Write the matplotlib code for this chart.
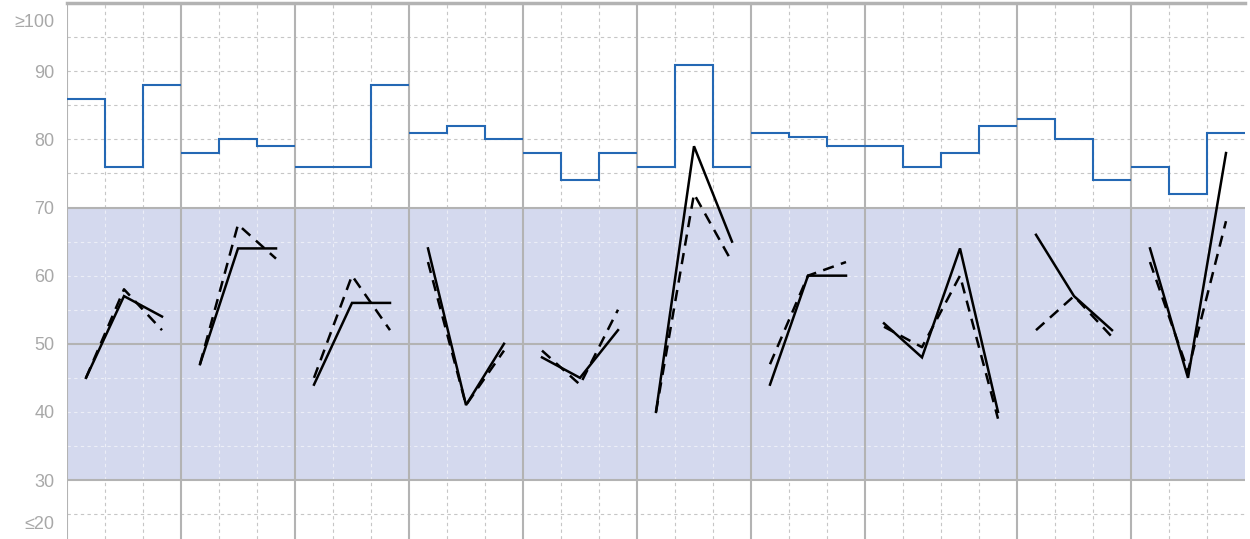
import matplotlib
matplotlib.use("Agg")
import matplotlib.pyplot as plt
import numpy as np

# step values (blue) per panel, one value per sub-column
blue_steps = [
    [86, 76, 88],
    [78, 80, 79],
    [76, 76, 88],
    [81, 82, 80],
    [78, 74, 78],
    [76, 91, 76],
    [81, 80.3, 79],
    [79, 76, 78, 82],
    [83, 80, 74],
    [76, 72, 81],
]
# solid black line per panel
solid_vals = [
    [45, 57, 54],
    [47, 64, 64],
    [44, 56, 56],
    [64, 41, 50],
    [48, 45, 52],
    [40, 79, 65],
    [44, 60, 60],
    [53, 48, 64, 40],
    [66, 57, 52],
    [64, 45, 78],
]
# dashed black line per panel
dashed_vals = [
    [45, 58, 52],
    [47, 67.5, 62.5],
    [45, 60, 52],
    [62, 41, 49],
    [49, 44, 55],
    [40, 72, 62],
    [47, 60, 62],
    [52.5, 49.5, 60, 39],
    [52, 57, 51],
    [62, 46, 68],
]
ytick_vals = [23.7, 30, 40, 50, 60, 70, 80, 90, 97.5]
ytick_labels = ["≤20", "30", "40", "50", "60", "70", "80", "90", "≥100"]

band_lo, band_hi = 30, 70
y_min, y_max = 21.34, 100

GRID_GREY = "#c6c6c6"
GRID_LIGHT = "#eceef7"
SOLID_GREY = "#b3b3b3"
BAND = "#d4d9ee"
BLUE = "#2468b4"

fig = plt.figure(figsize=(12.5, 5.39), dpi=100)
ax = fig.add_axes([67 / 1250, 0.0, 1178 / 1250, (539 - 3.2) / 539])

sizes = [len(v) for v in blue_steps]
edges = np.concatenate([[0], np.cumsum(sizes)])
x_total = edges[-1]

ax.set_xlim(0, x_total)
ax.set_ylim(y_min, y_max)

# shaded band
ax.axhspan(band_lo, band_hi, color=BAND, lw=0, zorder=0)

# dotted sub-column lines (light inside the band, grey outside)
sub_x = [x for x in range(1, x_total) if x not in edges]
dot = (0, (3, 3))
ax.vlines(sub_x, y_min, band_lo, colors=GRID_GREY, lw=0.8, linestyles=dot, zorder=1)
ax.vlines(sub_x, band_hi, y_max, colors=GRID_GREY, lw=0.8, linestyles=dot, zorder=1)
ax.vlines(sub_x, band_lo, band_hi, colors=GRID_LIGHT, lw=0.8, linestyles=dot, zorder=1)

# dotted horizontal lines every 5
for yv in np.arange(25, 100, 5):
    if yv in (30, 50, 70):
        continue
    c = GRID_LIGHT if band_lo < yv < band_hi else GRID_GREY
    ax.axhline(yv, color=c, lw=0.8, linestyle=dot, zorder=1)

# solid grey lines
for yv in (30, 50, 70):
    ax.axhline(yv, color=SOLID_GREY, lw=1.5, zorder=2)
ax.vlines(edges[:-1], y_min, y_max, colors=SOLID_GREY, lw=1.5, zorder=2)
ax.axhline(100, color=SOLID_GREY, lw=2.5, zorder=2, clip_on=False)

# data per panel
for i, start in enumerate(edges[:-1]):
    n = sizes[i]
    ax.stairs(blue_steps[i], np.arange(start, start + n + 1), baseline=None,
              color=BLUE, lw=1.5, zorder=3)
    xc = np.arange(n) + start + 0.5
    ax.plot(xc, solid_vals[i], color="black", lw=1.8, zorder=4,
            solid_joinstyle="miter")
    ax.plot(xc, dashed_vals[i], color="black", lw=1.8, zorder=4,
            linestyle=(0, (4.5, 3)))

for s in ax.spines.values():
    s.set_visible(False)
ax.set_xticks([])
ax.set_yticks(ytick_vals)
ax.set_yticklabels(ytick_labels)
ax.tick_params(axis="y", length=0, pad=9, labelsize=13, labelcolor="#a8a8a8")
for lab in ax.get_yticklabels():
    lab.set_fontfamily(["Liberation Sans", "DejaVu Sans"])

fig.savefig("out.png", dpi=100)
